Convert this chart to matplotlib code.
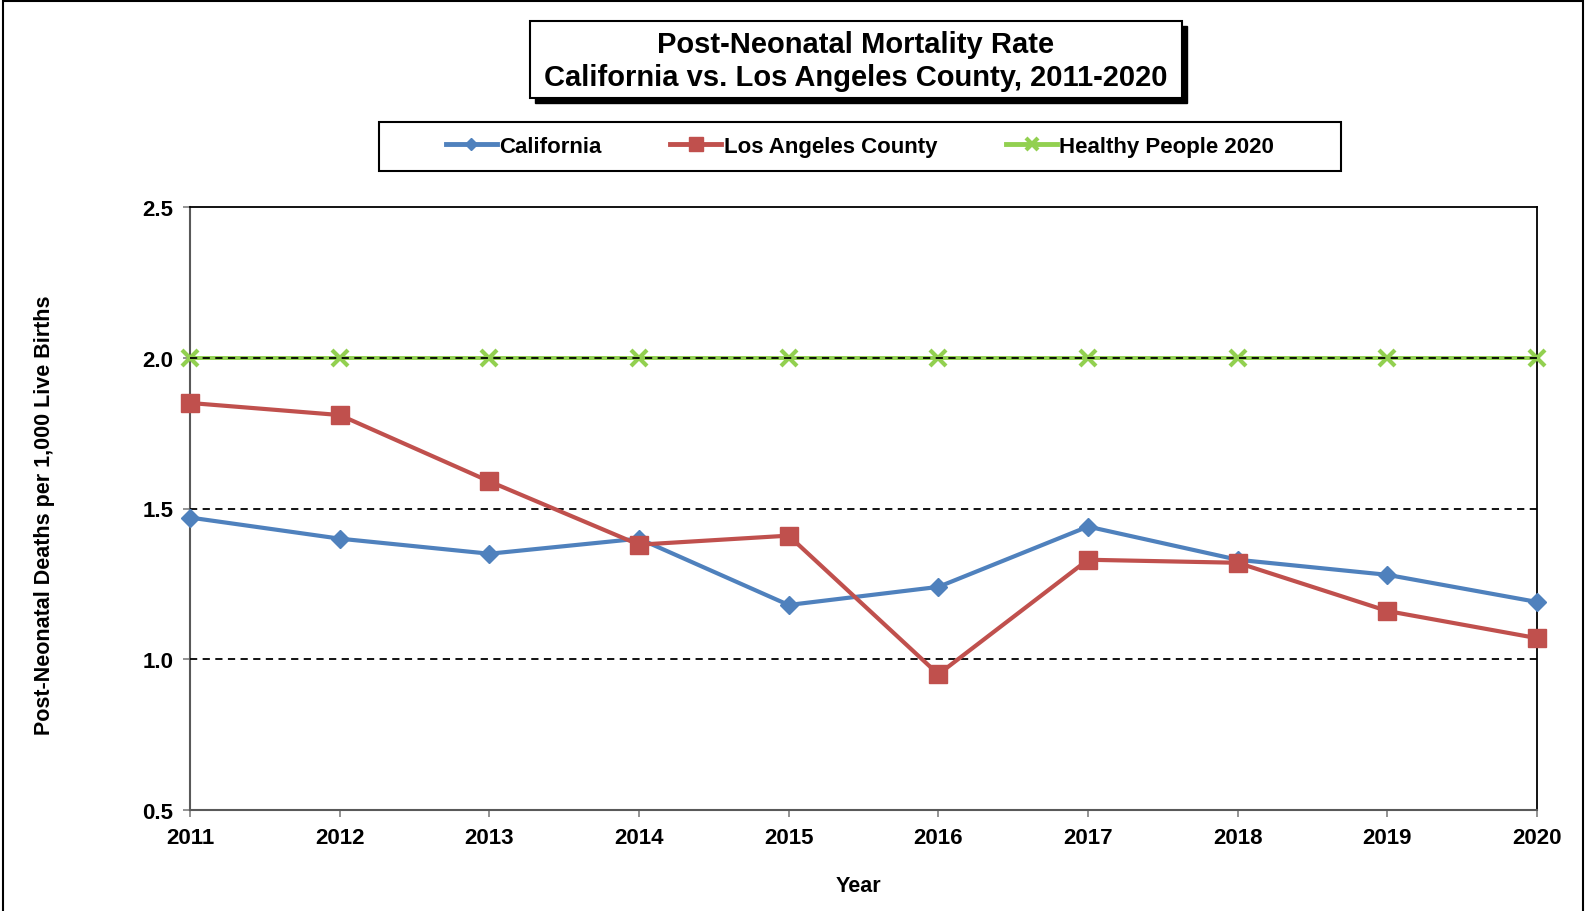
import matplotlib.pyplot as plt
from matplotlib.patches import Rectangle
from matplotlib.lines import Line2D

plt.rcParams['font.family'] = ['Liberation Sans', 'DejaVu Sans']
plt.rcParams['font.weight'] = 'bold'

years = [2011, 2012, 2013, 2014, 2015, 2016, 2017, 2018, 2019, 2020]
california = [1.47, 1.40, 1.35, 1.40, 1.18, 1.24, 1.44, 1.33, 1.28, 1.19]
los_angeles = [1.85, 1.81, 1.59, 1.38, 1.41, 0.95, 1.33, 1.32, 1.16, 1.07]
healthy_people = [2.0] * 10

blue = '#4F81BD'
red = '#C0504D'
green = '#92D050'

fig = plt.figure(figsize=(15.85, 9.12), dpi=100)
ax = fig.add_axes([190 / 1585, 1 - 811 / 912, (1537 - 190) / 1585, (811 - 208) / 912])

# outer chart border
fig.patches.append(Rectangle((3 / 1585, -0.05), 1580 / 1585, 1.05 - 2 / 912,
                             transform=fig.transFigure, fill=False,
                             edgecolor='black', linewidth=1.5))

ax.plot(years, healthy_people, color=green, lw=2.8, marker='x', ms=11, mew=3,
        label='Healthy People 2020', zorder=3, clip_on=False)
for y in [1.0, 1.5, 2.0]:
    ax.axhline(y, color='black', lw=1.3, ls=(0, (4, 3)), zorder=3.5)
ax.plot(years, california, color=blue, lw=3, marker='D', ms=9,
        label='California', zorder=4, clip_on=False)
ax.plot(years, los_angeles, color=red, lw=3, marker='s', ms=12.5,
        label='Los Angeles County', zorder=5, clip_on=False)

ax.set_xlim(2011, 2020)
ax.set_ylim(0.5, 2.5)
ax.set_xticks(years)
ax.set_yticks([0.5, 1.0, 1.5, 2.0, 2.5])
ax.set_yticklabels(['0.5', '1.0', '1.5', '2.0', '2.5'])
ax.tick_params(axis='both', labelsize=16, color='#808080', length=5, width=1.2)
ax.tick_params(axis='x', pad=7)
ax.tick_params(axis='y', pad=7)
for s in ['left', 'bottom']:
    ax.spines[s].set_color('#595959')
    ax.spines[s].set_linewidth(1.5)
for s in ['top', 'right']:
    ax.spines[s].set_color('black')
    ax.spines[s].set_linewidth(1.3)

fig.text(858 / 1585, 1 - 887 / 912, 'Year', ha='center', va='center', fontsize=15.5)
fig.text(45 / 1585, 1 - 515 / 912, 'Post-Neonatal Deaths per 1,000 Live Births',
         ha='center', va='center', rotation=90, fontsize=15.5)

# title box with shadow
tx0, ty0, tw, th = 530, 22, 652, 77
fig.patches.append(Rectangle(((tx0 + 5) / 1585, 1 - (ty0 + th + 5) / 912), tw / 1585, th / 912,
                             transform=fig.transFigure, facecolor='black', edgecolor='black'))
fig.patches.append(Rectangle((tx0 / 1585, 1 - (ty0 + th) / 912), tw / 1585, th / 912,
                             transform=fig.transFigure, facecolor='white', edgecolor='black',
                             linewidth=1.5))
fig.text((tx0 + tw / 2) / 1585, 1 - 45 / 912, 'Post-Neonatal Mortality Rate',
         ha='center', va='center', fontsize=21)
fig.text((tx0 + tw / 2) / 1585, 1 - 78 / 912, 'California vs. Los Angeles County, 2011-2020',
         ha='center', va='center', fontsize=21)

# legend box
lx0, ly0, lw_, lh = 379, 123, 962, 49
handles = [
    Line2D([], [], color=blue, lw=3.5, marker='D', ms=6),
    Line2D([], [], color=red, lw=3.5, marker='s', ms=10),
    Line2D([], [], color=green, lw=3.5, marker='x', ms=9, mew=3),
]
leg = fig.legend(handles, ['California', 'Los Angeles County', 'Healthy People 2020'],
                 loc='center', ncol=3, fontsize=16, frameon=False,
                 handlelength=2.3, handletextpad=0.1, columnspacing=3.1,
                 bbox_to_anchor=(lx0 / 1585, 1 - (ly0 + lh) / 912, lw_ / 1585, lh / 912),
                 bbox_transform=fig.transFigure, borderaxespad=0)
fig.patches.append(Rectangle((lx0 / 1585, 1 - (ly0 + lh) / 912), lw_ / 1585, lh / 912,
                             transform=fig.transFigure, fill=False, edgecolor='black',
                             linewidth=1.5))

fig.savefig('out.png', dpi=100)
